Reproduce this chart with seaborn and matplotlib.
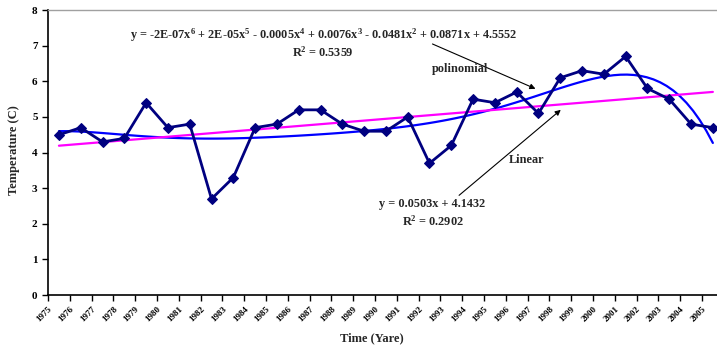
import numpy as np
import pandas as pd
import matplotlib
matplotlib.use("Agg")
import matplotlib.pyplot as plt
import seaborn as sns

# Data
years = list(range(1975, 2006))
temperature = [4.5, 4.7, 4.3, 4.4, 5.4, 4.7, 4.8, 2.7, 3.3, 4.7,
               4.8, 5.2, 5.2, 4.8, 4.6, 4.6, 5.0, 3.7, 4.2, 5.5,
               5.4, 5.7, 5.1, 6.1, 6.3, 6.2, 6.7, 5.8, 5.5, 4.8, 4.7]

poly_eq = (r"y = -2E-07x$^6$ + 2E-05x$^5$ - 0.0005x$^4$ + 0.0076x$^3$"
           r" - 0.0481x$^2$ + 0.0871x + 4.5552")
poly_r2 = r"R$^2$ = 0.5359"
lin_eq = "y = 0.0503x + 4.1432"
lin_r2 = r"R$^2$ = 0.2902"

# categories sit between tick marks (Excel style)
df = pd.DataFrame({"pos": np.arange(len(years)) + 0.5, "temp": temperature})

sns.set_style("ticks")
plt.rcParams["font.family"] = ["Liberation Serif", "DejaVu Serif"]
plt.rcParams["font.weight"] = "bold"
plt.rcParams["mathtext.fontset"] = "custom"
plt.rcParams["mathtext.rm"] = "Liberation Serif:bold"
plt.rcParams["mathtext.it"] = "Liberation Serif:bold"
plt.rcParams["mathtext.bf"] = "Liberation Serif:bold"
plt.rcParams["mathtext.default"] = "rm"

fig = plt.figure(figsize=(7.17, 3.48), dpi=100)
ax = fig.add_axes([0.067, 0.152, 0.933, 0.819])

# trend lines
sns.regplot(data=df, x="pos", y="temp", order=6, ci=None, scatter=False,
            color="#0000FF", line_kws={"lw": 1.6}, ax=ax)
sns.regplot(data=df, x="pos", y="temp", order=1, ci=None, scatter=False,
            color="#FF00FF", line_kws={"lw": 1.6}, ax=ax)

# observed series
sns.lineplot(data=df, x="pos", y="temp", color="#000080", lw=2,
             marker="D", markersize=5.5, markeredgecolor="#000080", ax=ax)

ax.set_xlim(0, 30.69)
ax.set_ylim(0, 8)
ax.set_xticks(range(len(years)))
ax.set_xticklabels(years, rotation=45, ha="right", rotation_mode="anchor",
                   fontsize=6.5, fontweight="bold")
ax.set_yticks(range(0, 9))
ax.set_yticklabels(range(0, 9), fontsize=8, fontweight="bold")
ax.tick_params(axis="both", direction="out", length=4, width=1, colors="black")
ax.tick_params(axis="x", pad=3)

ax.set_xlabel("Time (Yare)", fontsize=9, fontweight="bold")
ax.set_ylabel("Temperature (C)", fontsize=9, fontweight="bold")
ax.xaxis.set_label_coords(0.484, -0.13)
ax.yaxis.set_label_coords(-0.042, 0.51)

for side in ["left", "bottom"]:
    ax.spines[side].set_linewidth(1.2)
    ax.spines[side].set_color("black")
ax.spines["top"].set_color("#a0a0a0")
ax.spines["top"].set_linewidth(1.0)
ax.spines["right"].set_visible(False)

# equations and labels
fs = 8.8
ax.text(12.66, 7.30, poly_eq, ha="center", va="center", fontsize=fs)
ax.text(12.61, 6.82, poly_r2, ha="center", va="center", fontsize=fs)
ax.text(17.61, 2.55, lin_eq, ha="center", va="center", fontsize=fs)
ax.text(17.66, 2.08, lin_r2, ha="center", va="center", fontsize=fs)

ax.annotate("", xy=(22.48, 5.76), xytext=(17.52, 7.08),
            arrowprops=dict(arrowstyle="-|>", color="black", lw=0.8,
                            mutation_scale=8))
ax.text(18.9, 6.35, "polinomial", ha="center", va="center", fontsize=fs)

ax.annotate("", xy=(23.62, 5.25), xytext=(18.76, 2.75),
            arrowprops=dict(arrowstyle="-|>", color="black", lw=0.8,
                            mutation_scale=8))
ax.text(21.97, 3.79, "Linear", ha="center", va="center", fontsize=fs)

fig.savefig("out.png", dpi=100)
